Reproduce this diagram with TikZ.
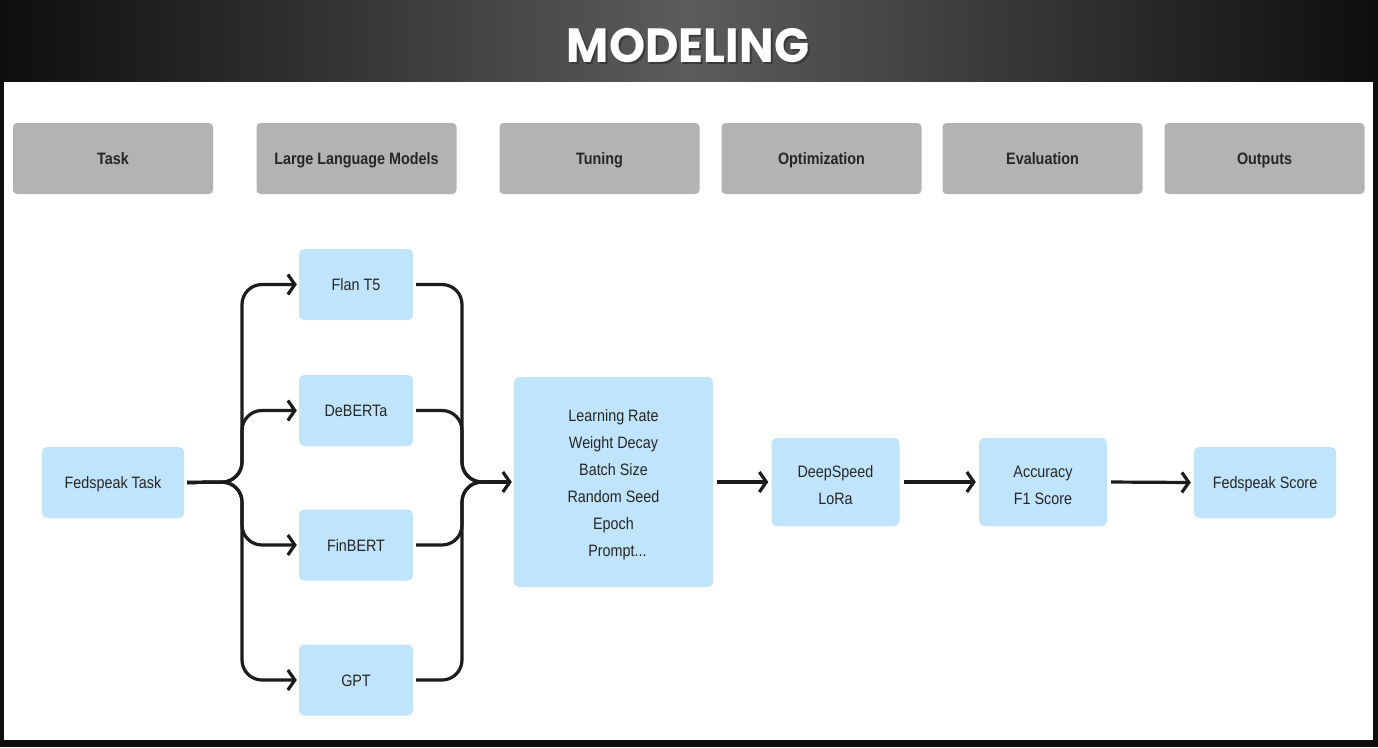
\documentclass[tikz,border=0pt]{standalone}
\usepackage{fontspec}
\setmainfont{Liberation Sans}[FakeStretch=0.87]
\newfontfamily\titlefont{Poppins}
\usetikzlibrary{arrows.meta}
\definecolor{bgdark}{HTML}{0E0E0E}
\definecolor{bandmid}{HTML}{5C5C5C}
\definecolor{hdrgray}{HTML}{B3B3B3}
\definecolor{boxblue}{HTML}{C0E4FC}
\definecolor{txtdark}{HTML}{262626}
\definecolor{linedark}{HTML}{1C1C1C}
\newcommand{\topstrut}{\rule{0pt}{18pt}}
\tikzset{
  hdr/.style={fill=hdrgray, rounded corners=4pt, minimum width=200pt, minimum height=71pt,
    inner sep=0pt, text height=12pt, text depth=0pt, text=txtdark,
    font=\fontsize{16.5}{18}\selectfont\bfseries},
  bbox/.style={fill=boxblue, rounded corners=5pt, inner sep=0pt, text=txtdark,
    align=center, font=\fontsize{16.5}{27}\selectfont},
  one/.style={text height=12pt, text depth=0pt},
  conn/.style={draw=linedark, line width=3.2pt, rounded corners=20pt},
  arr/.style={conn, -{Straight Barb[length=7pt,width=20pt]}},
}
\begin{document}
\begin{tikzpicture}[x=1pt,y=-1pt]
\useasboundingbox (0,0) rectangle (1378,747);
\fill[bgdark] (0,0) rectangle (1378,747);
\shade[left color=bgdark, right color=bgdark, middle color=bandmid] (0,0) rectangle (1378,82);
\fill[white] (4,82) rectangle (1373,740);
% title
\node[text=black!80, opacity=0.8] at (690,48) {\titlefont\fontsize{48}{48}\selectfont\bfseries\scalebox{0.96}[1]{MODELING}};
\node[text=white] (title) at (688,46) {\titlefont\fontsize{48}{48}\selectfont\bfseries\scalebox{0.96}[1]{MODELING}};
% headers
\node[hdr] (h1) at (113,158.5) {Task};
\node[hdr] (h2) at (356.5,158.5) {Large Language Models};
\node[hdr] (h3) at (599.5,158.5) {Tuning};
\node[hdr] (h4) at (821.5,158.5) {Optimization};
\node[hdr] (h5) at (1042.5,158.5) {Evaluation};
\node[hdr] (h6) at (1264.5,158.5) {Outputs};
% boxes
\node[bbox, one, minimum width=142pt, minimum height=71pt] (task) at (113,482.5) {Fedspeak Task};
\node[bbox, one, minimum width=114pt, minimum height=71pt] (flan) at (356,284.5) {Flan T5};
\node[bbox, one, minimum width=114pt, minimum height=71pt] (deb) at (356,410.5) {DeBERTa};
\node[bbox, one, minimum width=114pt, minimum height=71pt] (fin) at (356,545) {FinBERT};
\node[bbox, one, minimum width=114pt, minimum height=71pt] (gpt) at (356,680) {GPT};
\node[bbox, one, minimum width=142pt, minimum height=71pt] (out) at (1265,482.5) {Fedspeak Score};
\node[bbox, minimum width=199pt, minimum height=210pt] (tune) at (613.5,482) {\topstrut Learning Rate\\Weight Decay\\Batch Size\\Random Seed\\Epoch\\\hspace*{8pt}Prompt...};
\node[bbox, minimum width=128pt, minimum height=88pt] (opt) at (835.5,482) {\topstrut DeepSpeed\\LoRa};
\node[bbox, minimum width=128pt, minimum height=88pt] (eval) at (1043,482) {\topstrut Accuracy\\F1 Score};
% branching connectors
\coordinate (split) at (242,482);
\coordinate (merge) at (462,482);
\coordinate (mergeout) at (486,482);
\foreach \b in {flan,deb,fin,gpt}{
  \draw[arr, shorten <=3pt, shorten >=2pt] (task.east) -- (split) |- (\b.west);
  \draw[conn, shorten <=3pt] (\b.east) -| (merge) -- (mergeout);
}
\draw[arr, shorten >=2pt] (mergeout) -- (tune.west);
\draw[arr, shorten <=4pt, shorten >=3pt] (tune.east) -- (opt.west);
\draw[arr, shorten <=4pt, shorten >=3pt] (opt.east) -- (eval.west);
\draw[arr, shorten <=4pt, shorten >=3pt] (eval.east) -- (out.west);
\end{tikzpicture}
\end{document}
